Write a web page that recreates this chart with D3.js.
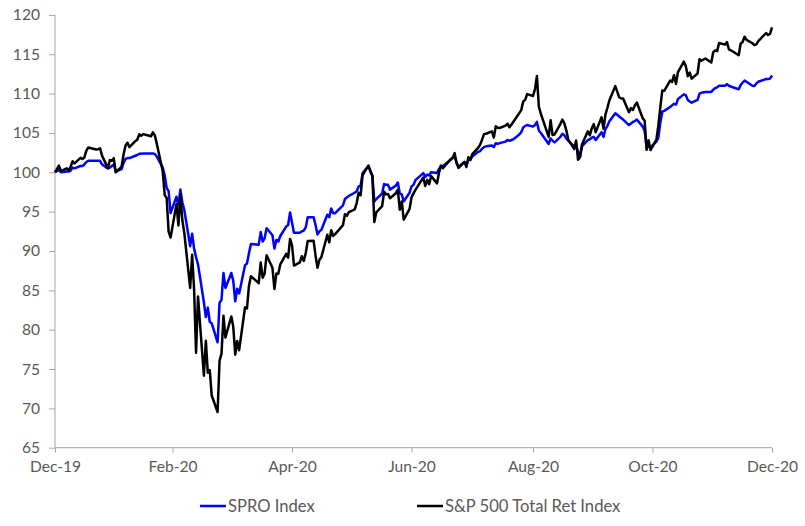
<!DOCTYPE html>
<html><head><meta charset="utf-8">
<script src="https://cdn.jsdelivr.net/npm/d3@7"></script>
<style>
html,body{margin:0;padding:0;background:#fff;}
svg text{font-family:Lato,"Open Sans",sans-serif;}
</style></head>
<body>
<svg id="chart" width="805" height="526"></svg>
<script>
const dates = [
"2019-12-31",
"2020-01-02","2020-01-03","2020-01-06","2020-01-07","2020-01-08","2020-01-09","2020-01-10","2020-01-13","2020-01-14","2020-01-15","2020-01-16","2020-01-17","2020-01-21","2020-01-22","2020-01-23","2020-01-24","2020-01-27","2020-01-28","2020-01-29","2020-01-30","2020-01-31",
"2020-02-03","2020-02-04","2020-02-05","2020-02-06","2020-02-07","2020-02-10","2020-02-11","2020-02-12","2020-02-13","2020-02-14","2020-02-18","2020-02-19","2020-02-20","2020-02-21","2020-02-24","2020-02-25","2020-02-26","2020-02-27","2020-02-28",
"2020-03-02","2020-03-03","2020-03-04","2020-03-05","2020-03-06","2020-03-09","2020-03-10","2020-03-11","2020-03-12","2020-03-13","2020-03-16","2020-03-17","2020-03-18","2020-03-19","2020-03-20","2020-03-23","2020-03-24","2020-03-25","2020-03-26","2020-03-27","2020-03-30","2020-03-31",
"2020-04-01","2020-04-02","2020-04-03","2020-04-06","2020-04-07","2020-04-08","2020-04-09","2020-04-13","2020-04-14","2020-04-15","2020-04-16","2020-04-17","2020-04-20","2020-04-21","2020-04-22","2020-04-23","2020-04-24","2020-04-27","2020-04-28","2020-04-29","2020-04-30",
"2020-05-01","2020-05-04","2020-05-05","2020-05-06","2020-05-07","2020-05-08","2020-05-11","2020-05-12","2020-05-13","2020-05-14","2020-05-15","2020-05-18","2020-05-19","2020-05-20","2020-05-21","2020-05-22","2020-05-26","2020-05-27","2020-05-28","2020-05-29",
"2020-06-01","2020-06-02","2020-06-03","2020-06-04","2020-06-05","2020-06-08","2020-06-09","2020-06-10","2020-06-11","2020-06-12","2020-06-15","2020-06-16","2020-06-17","2020-06-18","2020-06-19","2020-06-22","2020-06-23","2020-06-24","2020-06-25","2020-06-26","2020-06-29","2020-06-30",
"2020-07-01","2020-07-02","2020-07-06","2020-07-07","2020-07-08","2020-07-09","2020-07-10","2020-07-13","2020-07-14","2020-07-15","2020-07-16","2020-07-17","2020-07-20","2020-07-21","2020-07-22","2020-07-23","2020-07-24","2020-07-27","2020-07-28","2020-07-29","2020-07-30","2020-07-31",
"2020-08-03","2020-08-04","2020-08-05","2020-08-06","2020-08-07","2020-08-10","2020-08-11","2020-08-12","2020-08-13","2020-08-14","2020-08-17","2020-08-18","2020-08-19","2020-08-20","2020-08-21","2020-08-24","2020-08-25","2020-08-26","2020-08-27","2020-08-28","2020-08-31",
"2020-09-01","2020-09-02","2020-09-03","2020-09-04","2020-09-08","2020-09-09","2020-09-10","2020-09-11","2020-09-14","2020-09-15","2020-09-16","2020-09-17","2020-09-18","2020-09-21","2020-09-22","2020-09-23","2020-09-24","2020-09-25","2020-09-28","2020-09-29","2020-09-30",
"2020-10-01","2020-10-02","2020-10-05","2020-10-06","2020-10-07","2020-10-08","2020-10-09","2020-10-12","2020-10-13","2020-10-14","2020-10-15","2020-10-16","2020-10-19","2020-10-20","2020-10-21","2020-10-22","2020-10-23","2020-10-26","2020-10-27","2020-10-28","2020-10-29","2020-10-30",
"2020-11-02","2020-11-03","2020-11-04","2020-11-05","2020-11-06","2020-11-09","2020-11-10","2020-11-11","2020-11-12","2020-11-13","2020-11-16","2020-11-17","2020-11-18","2020-11-19","2020-11-20","2020-11-23","2020-11-24","2020-11-25","2020-11-27","2020-11-30",
"2020-12-01","2020-12-02","2020-12-03","2020-12-04","2020-12-07","2020-12-08","2020-12-09","2020-12-10","2020-12-11","2020-12-14","2020-12-15","2020-12-16","2020-12-17","2020-12-18","2020-12-21","2020-12-22","2020-12-23","2020-12-24","2020-12-28","2020-12-29","2020-12-30","2020-12-31"
];

const spro = [
100,
100.3,100.0,100.1,100.1,100.2,100.6,100.5,100.8,100.8,101.0,101.3,101.45,101.45,101.45,101.45,101.0,100.5,100.6,100.8,101.0,100.1,
100.4,101.2,101.7,101.8,101.8,102.1,102.2,102.35,102.35,102.4,102.4,102.4,102.3,102.0,100.6,99.6,98.0,97.6,94.8,
96.9,95.8,97.8,96.2,95.2,90.6,92.2,90.3,89.2,88.3,83.5,81.6,82.8,81.0,80.8,78.4,83.4,83.8,87.2,85.3,87.2,86.2,
83.6,85.2,84.6,88.2,88.4,89.7,90.9,90.8,92.4,91.2,91.6,92.9,92.0,90.3,91.4,91.2,91.9,93.1,93.3,94.9,93.6,
92.3,92.3,92.5,92.6,93.0,94.3,94.3,93.3,92.1,92.5,92.7,94.6,94.3,95.4,94.8,94.8,95.8,96.6,96.8,97.0,
97.4,97.6,98.2,98.3,99.9,100.8,100.2,99.6,96.3,96.6,97.3,98.5,98.4,98.4,97.8,98.3,98.7,97.3,97.2,96.3,97.4,98.2,
98.4,99.0,99.9,99.4,99.7,99.6,100.0,99.9,100.4,100.8,100.8,101.0,101.6,101.8,102.0,101.2,100.7,101.3,100.9,101.6,101.6,102.0,
102.6,102.7,103.0,103.2,103.3,103.4,103.2,103.7,103.6,103.7,103.9,104.1,104.0,104.1,104.2,104.8,105.1,105.7,105.9,106.0,105.8,
106.0,106.4,105.3,105.0,103.6,104.3,104.0,103.8,104.5,104.9,104.7,104.3,104.0,103.3,103.4,102.6,102.0,103.3,104.1,104.2,104.4,
104.5,104.1,105.1,104.5,105.5,105.9,106.5,107.5,107.3,107.1,106.9,106.7,106.0,106.2,106.4,106.5,106.7,105.8,105.3,103.1,103.3,103.2,
103.9,104.4,106.3,107.7,107.8,108.3,108.5,108.7,108.6,109.3,109.9,109.8,109.2,109.0,108.85,109.2,110.0,110.1,110.2,110.2,
110.5,110.7,110.8,111.0,111.0,111.2,111.0,110.9,110.8,110.55,111.1,111.4,111.65,111.5,111.0,110.95,111.3,111.5,111.85,111.85,111.9,112.3
];

const spxTR = [
100,
100.85,100.14,100.51,100.23,100.73,101.40,101.12,101.84,101.69,101.89,102.74,103.15,102.89,102.93,103.05,102.12,100.53,101.55,101.46,101.79,99.99,
100.73,102.25,103.40,103.75,103.19,103.96,104.14,104.82,104.65,104.85,104.57,105.07,104.67,103.58,100.12,97.10,96.74,92.47,91.71,
95.95,93.25,97.19,93.90,92.30,85.30,89.52,85.15,77.06,84.22,74.14,78.58,74.52,74.87,71.63,69.54,76.07,76.95,81.76,79.00,81.67,80.36,
76.82,78.57,77.39,82.85,82.71,85.54,86.78,85.92,88.55,86.61,87.11,89.45,87.86,85.17,87.13,87.09,88.30,89.63,89.15,91.53,90.70,
88.15,88.54,89.34,88.73,89.75,91.26,91.30,89.43,87.87,88.89,89.24,92.06,91.10,92.63,91.91,92.14,93.28,94.68,94.48,94.94,
95.30,96.09,97.41,97.08,99.64,100.85,100.07,99.54,93.68,94.91,95.71,97.53,97.19,97.25,96.70,97.34,97.77,95.24,96.29,93.97,95.35,96.83,
97.32,97.77,99.34,98.26,99.04,98.48,99.51,98.59,99.92,100.84,100.51,100.80,101.67,101.84,102.43,101.18,100.55,101.32,100.67,101.92,101.54,102.32,
103.10,103.50,104.15,104.85,104.90,105.20,104.40,105.85,105.65,105.63,105.93,106.17,105.72,106.06,106.43,107.52,107.90,109.00,109.20,109.93,109.70,
110.53,112.23,108.32,107.44,104.50,106.60,104.74,104.80,106.16,106.70,106.22,105.33,104.16,102.97,104.05,101.58,101.90,103.53,105.20,104.70,105.57,
106.12,105.10,107.00,105.52,107.35,108.20,109.15,110.95,110.25,109.53,109.37,109.38,107.64,108.15,107.92,108.48,108.86,106.87,106.55,102.85,104.07,102.82,
104.14,105.98,108.29,110.38,110.35,111.65,111.48,112.34,111.23,112.74,114.06,113.51,112.21,112.67,111.90,112.55,114.36,114.18,114.46,113.95,
115.26,115.47,115.40,116.42,116.22,116.54,115.63,115.49,115.35,114.88,116.35,116.56,117.23,116.82,116.40,116.16,116.25,116.67,117.70,117.44,117.60,118.40
];

const seriesNames = ["SPRO Index", "S&P 500 Total Ret Index"];
const seriesColors = ["#0000ff", "#000000"];
const xTickDates = ["2019-12-31","2020-02-29","2020-04-30","2020-06-30","2020-08-31","2020-10-31","2020-12-31"];
const xTickLabels = ["Dec-19","Feb-20","Apr-20","Jun-20","Aug-20","Oct-20","Dec-20"];
const yTicks = [65,70,75,80,85,90,95,100,105,110,115,120];

(function draw() {
  const parse = d3.timeParse("%Y-%m-%d");
  const dts = dates.map(parse);

  const svg = d3.select("#chart");
  const pL = 55, pR = 772, pT = 14.9, pB = 447.7;
  const axisColor = "#a6a6a6", textColor = "#595959";
  const tickFont = "15.6px", legendFont = "16.6px";

  const x = d3.scaleTime().domain([parse(xTickDates[0]), parse(xTickDates[xTickDates.length - 1])]).range([pL, pR]);
  const y = d3.scaleLinear().domain([65, 120]).range([pB, pT]);

  // Y axis
  const yAxis = d3.axisLeft(y).tickValues(yTicks).tickSize(6).tickPadding(9).tickFormat(d3.format("d"));
  const gy = svg.append("g").attr("transform", `translate(${pL},0)`).call(yAxis);
  gy.select(".domain").attr("stroke", axisColor).attr("d", `M0,${pB}V${pT}`);
  gy.selectAll(".tick line").attr("stroke", axisColor);
  gy.selectAll(".tick text").attr("fill", textColor).style("font-size", tickFont).style("font-family", "Lato");

  // X axis
  const xAxis = d3.axisBottom(x).tickValues(xTickDates.map(parse)).tickSize(5).tickPadding(8)
    .tickFormat((d, i) => xTickLabels[i]);
  const gx = svg.append("g").attr("transform", `translate(0,${pB})`).call(xAxis);
  gx.select(".domain").attr("stroke", axisColor).attr("d", `M${pL},0H${pR}`);
  gx.selectAll(".tick line").attr("stroke", axisColor);
  gx.selectAll(".tick text").attr("fill", textColor).style("font-size", tickFont).style("font-family", "Lato");

  // Lines
  const line = d3.line().x((d, i) => x(dts[i])).y(d => y(d));
  [spro, spxTR].forEach((s, k) => {
    svg.append("path").datum(s).attr("d", line)
      .attr("fill", "none").attr("stroke", seriesColors[k])
      .attr("stroke-width", 2.5).attr("stroke-linejoin", "round");
  });

  // Legend
  const legendPos = [{x: 200, tx: 228}, {x: 417, tx: 445}];
  seriesNames.forEach((n, k) => {
    const g = svg.append("g");
    g.append("line").attr("x1", legendPos[k].x).attr("x2", legendPos[k].x + 26)
      .attr("y1", 506).attr("y2", 506).attr("stroke", seriesColors[k]).attr("stroke-width", 2.5);
    g.append("text").attr("x", legendPos[k].tx).attr("y", 511.5)
      .attr("fill", textColor).style("font-size", legendFont).style("font-family", "Lato").text(n);
  });
})();
</script>
</body></html>
